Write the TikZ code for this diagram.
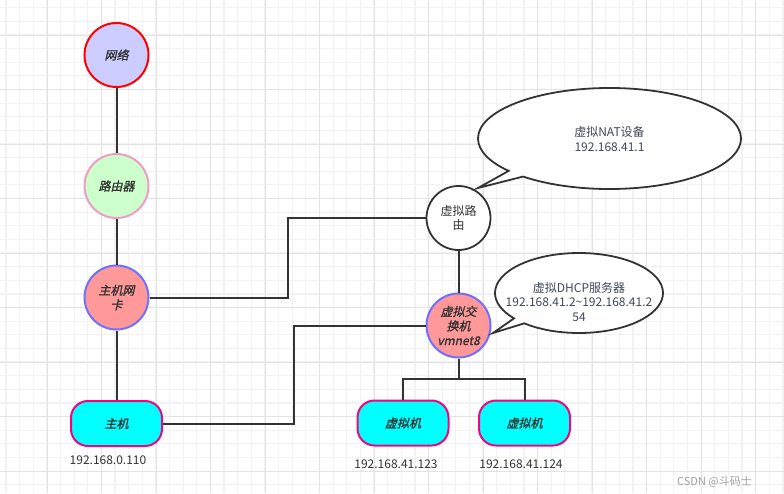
\documentclass[tikz,border=0pt]{standalone}
\usepackage{fontspec}
\setmainfont{Noto Sans CJK SC}
\newfontfamily\cjkit{Noto Sans CJK SC}[FakeSlant=0.22,FakeBold=1.2]
\usetikzlibrary{shapes.callouts}
\definecolor{gridminor}{HTML}{F2F2F2}
\definecolor{gridmajor}{HTML}{E3E3E3}
\definecolor{txt}{HTML}{333333}
\definecolor{bubtxt}{HTML}{3E4856}
\definecolor{conn}{HTML}{333333}
\definecolor{netfill}{HTML}{CCCCFF}
\definecolor{netdraw}{HTML}{FF0000}
\definecolor{rtfill}{HTML}{CCFFCC}
\definecolor{rtdraw}{HTML}{F29CC4}
\definecolor{nicfill}{HTML}{FF9999}
\definecolor{nicdraw}{HTML}{7070FF}
\definecolor{hostfill}{HTML}{00FFFF}
\definecolor{hostdraw}{HTML}{F0047F}
\definecolor{wm}{HTML}{A0A0A0}
\tikzset{
  circnode/.style={circle, minimum size=64pt, inner sep=0pt, line width=2pt, align=center,
    text=txt, font=\cjkit\fontsize{12}{14.5}\selectfont},
  plaincirc/.style={circle, minimum size=64pt, inner sep=0pt, line width=1.8pt, align=center,
    draw=conn, fill=white, text=txt, font=\fontsize{12}{14.5}\selectfont},
  pcbox/.style={rectangle, rounded corners=17pt, minimum width=91pt, minimum height=45pt,
    inner sep=0pt, line width=2pt, draw=hostdraw, fill=hostfill, text=txt,
    font=\cjkit\fontsize{12}{14.5}\selectfont},
  iplabel/.style={text=txt, inner sep=0pt, font=\fontsize{12}{14}\selectfont},
  bubble/.style={ellipse callout, draw=conn, fill=white, line width=1.8pt, inner sep=0pt},
  bubtext/.style={align=center, text=bubtxt, inner sep=0pt, font=\fontsize{12}{14.5}\selectfont},
  connline/.style={draw=conn, line width=2pt},
}
\begin{document}
\begin{tikzpicture}[x=1pt,y=-1pt]
\useasboundingbox (0,0) rectangle (784,493);
\fill[white] (0,0) rectangle (784,493);
% grid
\foreach \i in {0,...,57} \draw[gridminor, line width=1.2pt] ({6+13.63*\i},0) -- ({6+13.63*\i},493);
\foreach \i in {0,...,36} \draw[gridminor, line width=1.2pt] (0,{7.7+13.63*\i}) -- (784,{7.7+13.63*\i});
\foreach \i in {0,...,14} \draw[gridmajor, line width=0.7pt] ({6+13.63*(4*\i+3)},0) -- ({6+13.63*(4*\i+3)},493);
\foreach \i in {0,...,9} \draw[gridmajor, line width=0.7pt] (0,{7.7+13.63*(4*\i+2)}) -- (784,{7.7+13.63*(4*\i+2)});

% connectors (behind nodes)
\coordinate (j1) at (288,218);
\coordinate (j2) at (294,325.5);
\coordinate (j3) at (458.5,379);

% nodes
\node[circnode, draw=netdraw, fill=netfill] (net) at (116.5,55) {网络};
\node[circnode, draw=rtdraw, fill=rtfill] (rt) at (116.5,186) {路由器};
\node[circnode, draw=nicdraw, fill=nicfill] (nic) at (116.5,297.5) {主机网\\卡};
\node[pcbox] (host) at (116.5,423.5) {主机};
\node[plaincirc] (vr) at (458.5,218) {虚拟路\\由};
\node[circnode, draw=nicdraw, fill=nicfill] (vs) at (458.5,325.5) {虚拟交\\换机\\vmnet8};
\node[pcbox] (vm1) at (403,423) {虚拟机};
\node[pcbox] (vm2) at (524.5,423) {虚拟机};

% callouts
\node[bubble, minimum width=263pt, minimum height=101pt, callout pointer arc=9,
  callout absolute pointer={(478,188)}] (nat) at (609.5,138.5) {};
\node[bubtext] (nattext) at (609.5,139) {虚拟NAT设备\\192.168.41.1};
\node[bubble, minimum width=168pt, minimum height=80pt, callout pointer arc=10,
  callout absolute pointer={(493,333)}] (dhcp) at (579,293) {};
\node[bubtext] (dhcptext) at (579,302) {虚拟DHCP服务器\\192.168.41.2\textasciitilde192.168.41.2\\54};

% labels
\node[iplabel] (ip0) at (108,460) {192.168.0.110};
\node[iplabel] (ip1) at (396,464) {192.168.41.123};
\node[iplabel] (ip2) at (521,464) {192.168.41.124};
\node[text=wm, inner sep=0pt, font=\fontsize{11}{13}\selectfont] (wmk) at (714.5,482) {CSDN @斗码士};

\draw[connline] (net) -- (rt);
\draw[connline] (rt) -- (nic);
\draw[connline] (nic) -- (host);
\draw[connline] (nic.east) -| (j1) -- (vr.west);
\draw[connline] (host.east) -| (j2) -- (vs.west);
\draw[connline] (vr) -- (vs);
\draw[connline] (vs.south) -- (j3);
\draw[connline] (vm1.north) |- (j3) -| (vm2.north);
\end{tikzpicture}
\end{document}
